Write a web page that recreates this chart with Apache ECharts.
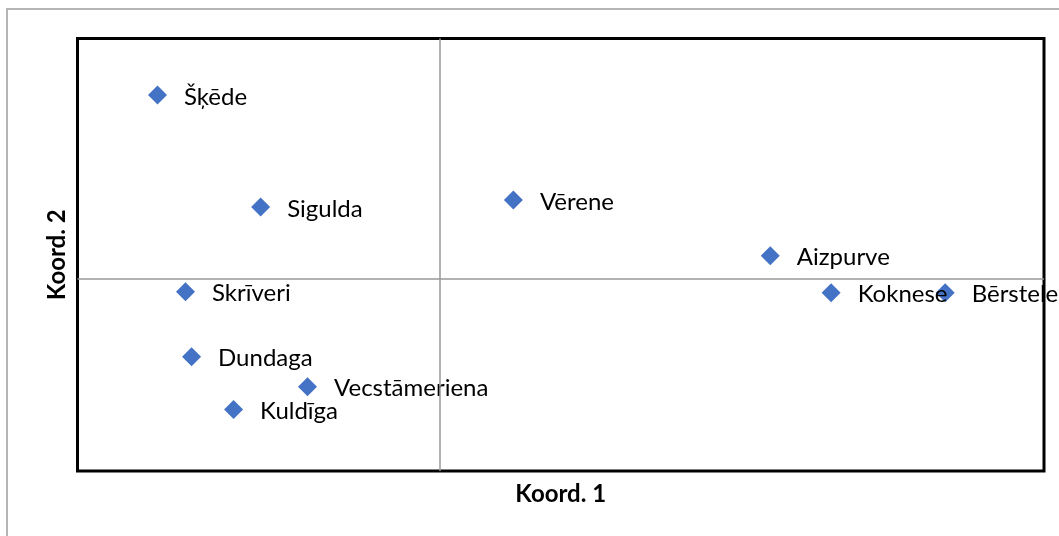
<!DOCTYPE html>
<html><head><meta charset="utf-8">
<script src="https://cdn.jsdelivr.net/npm/echarts@6/dist/echarts.min.js"></script>
<style>html,body{margin:0;padding:0;background:#fff}#c{width:1059px;height:536px}</style>
</head><body><div id="c"></div>
<script>
const names = ['Šķēde','Sigulda','Vērene','Aizpurve','Koknese','Bērstele','Skrīveri','Dundaga','Vecstāmeriena','Kuldīga'];
const koord1 = [-1.169,-0.742,0.304,1.367,1.619,2.091,-1.053,-1.028,-0.548,-0.854];
const koord2 = [0.765,0.299,0.328,0.096,-0.058,-0.058,-0.054,-0.324,-0.449,-0.544];
const xTitle = 'Koord. 1';
const yTitle = 'Koord. 2';

const data = names.map((n,i)=>({name:n, value:[koord1[i], koord2[i]]}));
const chart = echarts.init(document.getElementById('c'), null, {renderer:'canvas'});
const font = 'Lato, "Open Sans", sans-serif';
chart.setOption({
  animation:false,
  graphic:[{type:'rect', shape:{x:7, y:9, width:1070, height:560}, style:{fill:null, stroke:'#b5b5b5', lineWidth:2}, z:-10}],
  grid:{left:77.5, top:38.5, right:15, bottom:65, show:true, borderColor:'#000', borderWidth:3, backgroundColor:'transparent'},
  xAxis:{type:'value', min:-1.5, max:2.5, axisLine:{show:false}, axisTick:{show:false}, axisLabel:{show:false}, splitLine:{show:false},
    name:xTitle, nameLocation:'middle', nameGap:11, nameTextStyle:{fontFamily:font, fontWeight:'bold', fontSize:24, color:'#000'}},
  yAxis:{type:'value', min:-0.8, max:1.0, axisLine:{show:false}, axisTick:{show:false}, axisLabel:{show:false}, splitLine:{show:false},
    name:yTitle, nameLocation:'middle', nameGap:8, nameTextStyle:{fontFamily:font, fontWeight:'bold', fontSize:24, color:'#000'}},
  series:[{
    type:'scatter', symbol:'diamond', symbolSize:[19,19], data:data,
    itemStyle:{color:'#4472C4', opacity:1},
    label:{show:true, position:'right', distance:17, formatter:'{b}', fontFamily:font, fontSize:24, color:'#000', offset:[0,2]},
    markLine:{silent:true, symbol:'none', label:{show:false}, lineStyle:{color:'#999', width:1.5, type:'solid'},
      data:[{xAxis:0},{yAxis:0}]}
  }]
});
</script></body></html>
